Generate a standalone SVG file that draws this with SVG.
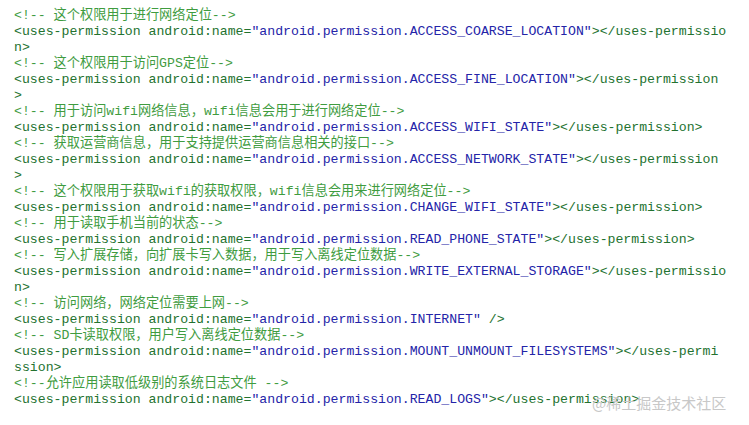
<svg xmlns="http://www.w3.org/2000/svg" width="749" height="425" viewBox="0 0 749 425">
<style>
text{font-family:"Liberation Mono","Noto Sans CJK SC",monospace;font-size:13.2px;white-space:pre}
.c{fill:#3f9c3f}.t{fill:#23722f}.s{fill:#2424a8}
.w{font-family:"Noto Sans CJK SC",sans-serif;font-size:15px;fill:#c8c8c8}
</style>
<rect width="749" height="425" fill="#ffffff"/>
<g id="code" xml:space="preserve">
<text x="14" y="19" class="c">&lt;!-- 这个权限用于进行网络定位--&gt;</text>
<text x="14" y="35" class="t">&lt;uses-permission android:name=<tspan class="s">"android.permission.ACCESS_COARSE_LOCATION"</tspan>&gt;&lt;/uses-permissio</text>
<text x="14" y="51" class="t">n&gt;</text>
<text x="14" y="67" class="c">&lt;!-- 这个权限用于访问GPS定位--&gt;</text>
<text x="14" y="83" class="t">&lt;uses-permission android:name=<tspan class="s">"android.permission.ACCESS_FINE_LOCATION"</tspan>&gt;&lt;/uses-permission</text>
<text x="14" y="99" class="t">&gt;</text>
<text x="14" y="115" class="c">&lt;!-- 用于访问wifi网络信息，wifi信息会用于进行网络定位--&gt;</text>
<text x="14" y="131" class="t">&lt;uses-permission android:name=<tspan class="s">"android.permission.ACCESS_WIFI_STATE"</tspan>&gt;&lt;/uses-permission&gt;</text>
<text x="14" y="147" class="c">&lt;!-- 获取运营商信息，用于支持提供运营商信息相关的接口--&gt;</text>
<text x="14" y="163" class="t">&lt;uses-permission android:name=<tspan class="s">"android.permission.ACCESS_NETWORK_STATE"</tspan>&gt;&lt;/uses-permission</text>
<text x="14" y="179" class="t">&gt;</text>
<text x="14" y="195" class="c">&lt;!-- 这个权限用于获取wifi的获取权限，wifi信息会用来进行网络定位--&gt;</text>
<text x="14" y="211" class="t">&lt;uses-permission android:name=<tspan class="s">"android.permission.CHANGE_WIFI_STATE"</tspan>&gt;&lt;/uses-permission&gt;</text>
<text x="14" y="227" class="c">&lt;!-- 用于读取手机当前的状态--&gt;</text>
<text x="14" y="243" class="t">&lt;uses-permission android:name=<tspan class="s">"android.permission.READ_PHONE_STATE"</tspan>&gt;&lt;/uses-permission&gt;</text>
<text x="14" y="259" class="c">&lt;!-- 写入扩展存储，向扩展卡写入数据，用于写入离线定位数据--&gt;</text>
<text x="14" y="275" class="t">&lt;uses-permission android:name=<tspan class="s">"android.permission.WRITE_EXTERNAL_STORAGE"</tspan>&gt;&lt;/uses-permissio</text>
<text x="14" y="291" class="t">n&gt;</text>
<text x="14" y="307" class="c">&lt;!-- 访问网络，网络定位需要上网--&gt;</text>
<text x="14" y="323" class="t">&lt;uses-permission android:name=<tspan class="s">"android.permission.INTERNET"</tspan> /&gt;</text>
<text x="14" y="339" class="c">&lt;!-- SD卡读取权限，用户写入离线定位数据--&gt;</text>
<text x="14" y="355" class="t">&lt;uses-permission android:name=<tspan class="s">"android.permission.MOUNT_UNMOUNT_FILESYSTEMS"</tspan>&gt;&lt;/uses-permi</text>
<text x="14" y="371" class="t">ssion&gt;</text>
<text x="14" y="387" class="c">&lt;!--允许应用读取低级别的系统日志文件 --&gt;</text>
<text x="14" y="403" class="t">&lt;uses-permission android:name=<tspan class="s">"android.permission.READ_LOGS"</tspan>&gt;&lt;/uses-permission&gt;</text>
</g>
<text x="592" y="409" class="w">@稀土掘金技术社区</text>
</svg>
